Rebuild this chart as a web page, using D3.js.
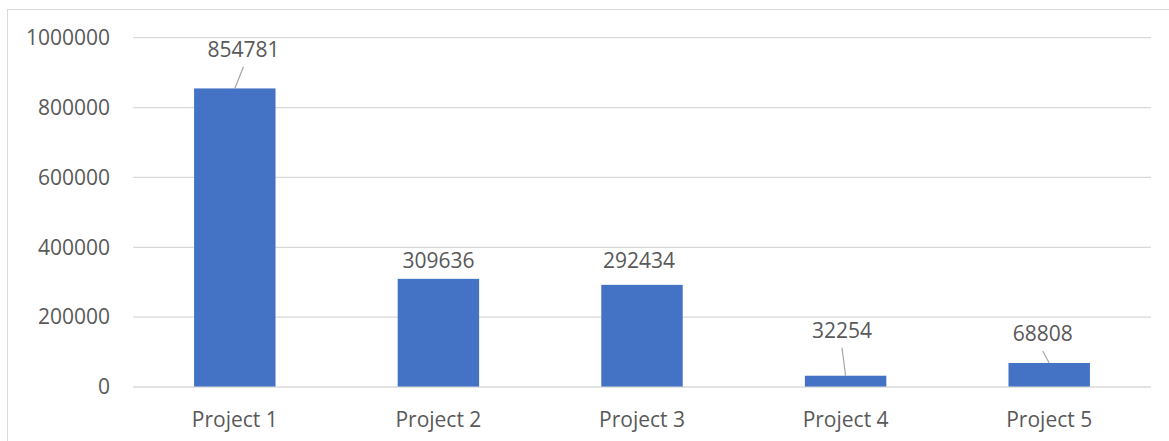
<!DOCTYPE html>
<html>
<head>
<meta charset="utf-8">
<script src="https://cdn.jsdelivr.net/npm/d3@7"></script>
<style>
  html, body { margin: 0; padding: 0; background: #ffffff; }
  svg { display: block; }
  text { font-family: "Open Sans", "Noto Sans", sans-serif; fill: #595959; }
</style>
</head>
<body>
<svg id="chart" width="1169" height="441"></svg>
<script>
// ---- data ----
const categories = ["Project 1", "Project 2", "Project 3", "Project 4", "Project 5"];
const values = [854781, 309636, 292434, 32254, 68808];
const yTicks = [0, 200000, 400000, 600000, 800000, 1000000];

// ---- layout (label placement relative to bar top, pixels) ----
const labelDx = [8.7, 0, -3, -3.6, -6.5];
const labelDy = [-32.7, -12, -18, -39, -23];
const hasLeader = [true, false, false, true, true];

const plot = { left: 133, right: 1151, top: 37.7, bottom: 387 };

const svg = d3.select("#chart");

// chart border
svg.append("rect")
  .attr("x", 7.5).attr("y", 9.5)
  .attr("width", 1200).attr("height", 500)
  .attr("fill", "#ffffff").attr("stroke", "#d9d9d9").attr("stroke-width", 1);

const x = d3.scaleBand()
  .domain(categories)
  .range([plot.left, plot.right])
  .paddingInner(0.6)
  .paddingOuter(0.3);

const y = d3.scaleLinear()
  .domain([0, 1000000])
  .range([plot.bottom, plot.top]);

// gridlines
svg.append("g")
  .selectAll("line")
  .data(yTicks)
  .join("line")
  .attr("x1", plot.left).attr("x2", plot.right)
  .attr("y1", d => y(d)).attr("y2", d => y(d))
  .attr("stroke", "#d9d9d9").attr("stroke-width", 1.2);

// y axis labels
const yAxis = d3.axisLeft(y).tickValues(yTicks).tickSize(0).tickPadding(23).tickFormat(d3.format("d"));
const gy = svg.append("g").attr("transform", `translate(${plot.left},0)`).call(yAxis);
gy.select(".domain").remove();
gy.selectAll("text")
  .attr("font-size", 21)
  .attr("font-family", "'Open Sans', 'Noto Sans', sans-serif")
  .attr("fill", "#595959");

// bars
svg.append("g")
  .selectAll("rect")
  .data(values)
  .join("rect")
  .attr("x", (d, i) => x(categories[i]))
  .attr("y", d => y(d))
  .attr("width", x.bandwidth())
  .attr("height", d => y(0) - y(d))
  .attr("fill", "#4472c4");

// baseline
svg.append("line")
  .attr("x1", plot.left).attr("x2", plot.right)
  .attr("y1", y(0)).attr("y2", y(0))
  .attr("stroke", "#d9d9d9").attr("stroke-width", 1.2);

// x axis labels
const xAxis = d3.axisBottom(x).tickSize(0).tickPadding(25);
const gx = svg.append("g").attr("transform", `translate(0,${plot.bottom})`).call(xAxis);
gx.select(".domain").remove();
gx.selectAll("text")
  .attr("font-size", 21)
  .attr("font-family", "'Open Sans', 'Noto Sans', sans-serif")
  .attr("fill", "#595959");

// data labels
const labels = svg.append("g");
values.forEach((v, i) => {
  const bx = x(categories[i]) + x.bandwidth() / 2;
  const by = y(v);
  const tx = bx + labelDx[i];
  const ty = by + labelDy[i];
  if (hasLeader[i]) {
    labels.append("line")
      .attr("x1", tx).attr("y1", ty + 11)
      .attr("x2", bx).attr("y2", by)
      .attr("stroke", "#a6a6a6").attr("stroke-width", 1.2);
  }
  labels.append("text")
    .attr("x", tx).attr("y", ty + 1)
    .attr("text-anchor", "middle")
    .attr("font-size", 21)
    .attr("fill", "#404040")
    .text(v);
});
</script>
</body>
</html>
